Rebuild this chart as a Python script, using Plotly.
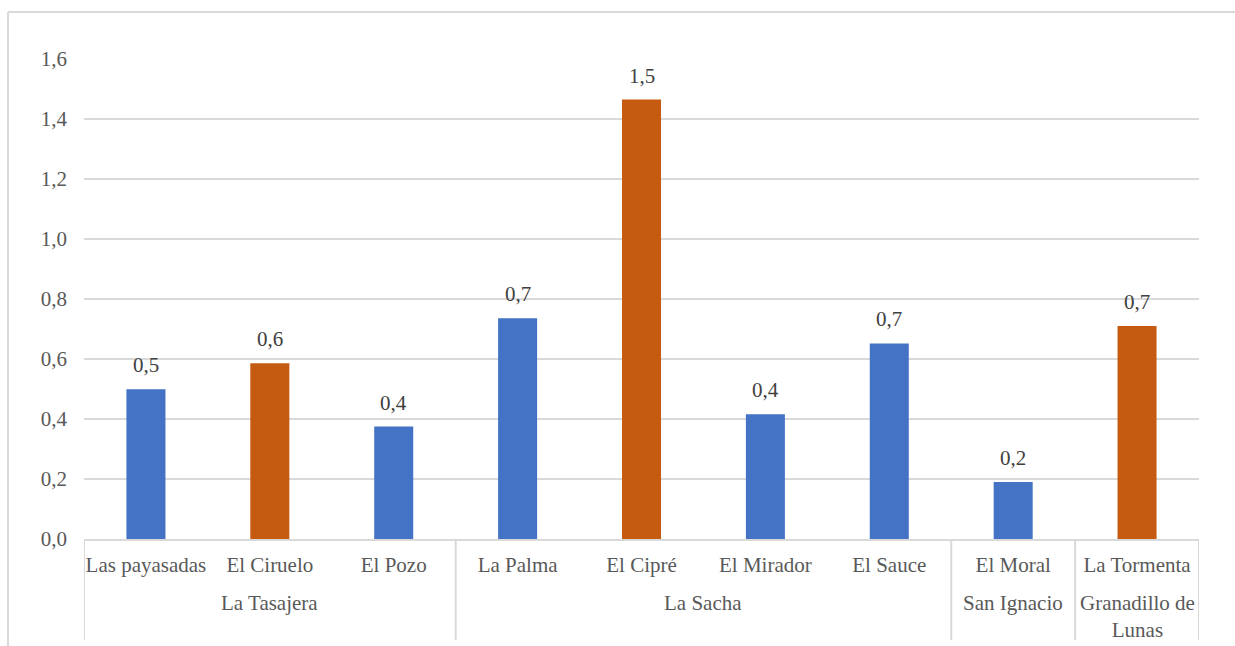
import plotly.graph_objects as go

# Data: communities (sub-category), their veredas/groups, and values
localidades = ["Las payasadas", "El Ciruelo", "El Pozo", "La Palma", "El Cipré",
               "El Mirador", "El Sauce", "El Moral", "La Tormenta"]
grupos = ["La Tasajera", "La Tasajera", "La Tasajera", "La Sacha", "La Sacha",
          "La Sacha", "La Sacha", "San Ignacio", "Granadillo de<br>Lunas"]
valores = [0.499, 0.586, 0.375, 0.736, 1.465, 0.416, 0.652, 0.19, 0.71]
destacados = ["El Ciruelo", "El Cipré", "La Tormenta"]
y_ticks = [0.0, 0.2, 0.4, 0.6, 0.8, 1.0, 1.2, 1.4, 1.6]

BLUE = "#4472C4"
ORANGE = "#C55A11"
GRID = "#d9d9d9"
FONT = "Liberation Serif, 'Times New Roman', serif"
FS = 21

W, H = 1235, 646
ML, MR, MT, MB = 84, 36, 59, 107
PW, PH = W - ML - MR, H - MT - MB

def px_x(px):
    return (px - ML) / PW

def px_y(py):
    return (H - MB - py) / PH

colors = [ORANGE if c in destacados else BLUE for c in localidades]

fig = go.Figure()
fig.add_trace(go.Bar(
    x=list(range(len(localidades))),
    y=valores,
    marker=dict(color=colors, line=dict(width=0)),
    width=0.315,
    hoverinfo="skip",
))

annotations = []
# value labels above each bar, one decimal with comma separator
for i, v in enumerate(valores):
    annotations.append(dict(
        x=i, y=v, xref="x", yref="y", text=f"{v:.1f}".replace(".", ","),
        showarrow=False, yanchor="bottom", yshift=10,
        font=dict(family=FONT, size=FS, color="#404040"),
    ))

# group labels (second level of the category axis)
spans = []
start = 0
for i in range(1, len(grupos) + 1):
    if i == len(grupos) or grupos[i] != grupos[start]:
        spans.append((grupos[start], start, i - 1))
        start = i
for name, a, b in spans:
    annotations.append(dict(
        x=(a + b) / 2, y=px_y(589), xref="x", yref="paper", text=name,
        showarrow=False, yanchor="top",
        font=dict(family=FONT, size=FS, color="#595959"),
    ))

shapes = []
# dividers between groups, running from the axis down
bounds = [spans[0][1] - 0.5] + [b + 0.5 for _, _, b in spans]
for xb in bounds:
    shapes.append(dict(type="line", xref="x", yref="paper",
                       x0=xb, x1=xb, y0=0, y1=px_y(640),
                       line=dict(color=GRID, width=2)))
# chart-area frame (left and top edges)
shapes.append(dict(type="line", xref="paper", yref="paper",
                   x0=px_x(8), x1=px_x(8), y0=px_y(12), y1=px_y(660),
                   line=dict(color=GRID, width=2)))
shapes.append(dict(type="line", xref="paper", yref="paper",
                   x0=px_x(8), x1=px_x(1250), y0=px_y(12), y1=px_y(12),
                   line=dict(color=GRID, width=2)))

fig.update_layout(
    width=W, height=H,
    margin=dict(l=ML, r=MR, t=MT, b=MB),
    paper_bgcolor="white", plot_bgcolor="white",
    showlegend=False,
    font=dict(family=FONT, size=FS, color="#595959"),
    annotations=annotations,
    shapes=shapes,
    xaxis=dict(
        tickmode="array",
        tickvals=list(range(len(localidades))),
        ticktext=localidades,
        range=[-0.5, len(localidades) - 0.5],
        showgrid=False, zeroline=False,
        showline=True, linecolor=GRID, linewidth=2,
        ticks="", ticklabelstandoff=6,
        tickfont=dict(family=FONT, size=FS, color="#595959"),
        fixedrange=True,
    ),
    yaxis=dict(
        range=[0, 1.6],
        tickvals=y_ticks,
        ticktext=[f"{t:.1f}".replace(".", ",") for t in y_ticks],
        showgrid=True, gridcolor=GRID, gridwidth=1.5,
        zeroline=False, showline=False,
        ticks="", ticklabelstandoff=16,
        tickfont=dict(family=FONT, size=FS, color="#595959"),
        fixedrange=True,
    ),
)

fig.write_html("out.html")
